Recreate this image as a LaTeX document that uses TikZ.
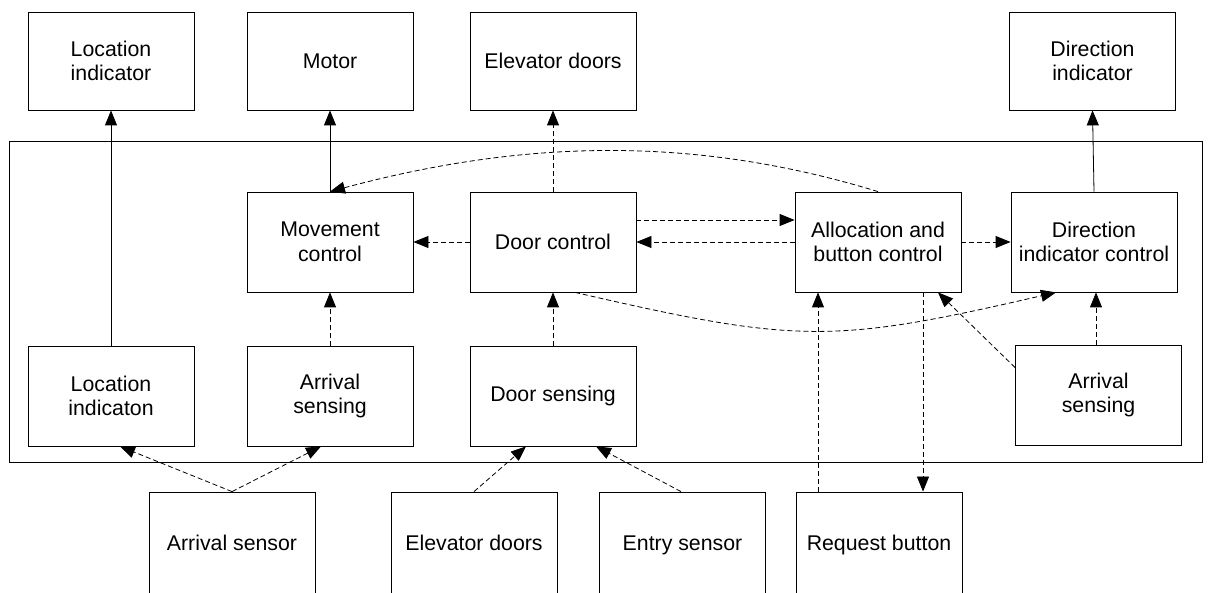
\documentclass[tikz,border=0pt]{standalone}
\usepackage{fontspec}
\setmainfont{Liberation Sans}
\usetikzlibrary{arrows.meta}
\begin{document}
\begin{tikzpicture}[x=1pt,y=1pt,
  box/.style={draw, line width=0.8pt, minimum width=166pt, minimum height=100pt,
    align=center, inner sep=2pt, font=\fontsize{21.3}{24.5}\selectfont},
  tall/.style={minimum height=98pt},
  lowbox/.style={minimum height=102pt, text depth=0pt},
  solidarr/.style={line width=0.8pt, -{Triangle[length=15pt,width=12pt]}},
  dasharr/.style={line width=0.8pt, dash pattern=on 5pt off 3pt, -{Triangle[length=15pt,width=12pt]}}]
\useasboundingbox (0,0) rectangle (1213,592);
\clip (0,0) rectangle (1213,592);
\fill[white] (0,0) rectangle (1213,592);
% container
\draw[line width=0.8pt] (9,130) rectangle (1202,451);
% top row
\node[box,tall] (locTop) at (111,531) {Location\\indicator};
\node[box,tall] (motor) at (330,531) {Motor};
\node[box,tall] (elevTop) at (553,531) {Elevator doors};
\node[box,tall] (dirind) at (1092.5,531) {Direction\\indicator};
% middle row
\node[box] (move) at (330,350) {Movement\\control};
\node[box] (door) at (553,350) {Door control};
\node[box] (alloc) at (878,350) {Allocation and\\button control};
\node[box] (dic) at (1094,350) {Direction\\indicator control};
% lower row
\node[box] (locind) at (111,196) {Location\\indicaton};
\node[box] (arrL) at (330,196) {Arrival\\sensing};
\node[box] (dsens) at (553,196) {Door sensing};
\node[box] (arrR) at (1098.5,197) {Arrival\\sensing};
% bottom row
\node[box,lowbox] (asensor) at (232,49) {Arrival sensor};
\node[box,lowbox] (elevBot) at (474,49) {Elevator doors};
\node[box,lowbox] (entry) at (682.5,49) {Entry sensor};
\node[box,lowbox] (req) at (879,49) {Request button};
% solid arrows
\draw[solidarr] (locind.north) -- (locTop.south);
\draw[solidarr] (move.north) -- (motor.south);
\draw[solidarr] (dic.north) -- (dirind.south);
% dashed arrows
\draw[dasharr] (door.north) -- (elevTop.south);
\draw[dasharr] (door.west) -- (move.east);
\draw[dasharr] ([yshift=22pt]door.east) -- ([yshift=22pt]alloc.west);
\draw[dasharr] (alloc.west) -- (door.east);
\draw[dasharr] (alloc.east) -- (dic.west);
\draw[dasharr] (alloc.north) to[out=163,in=15,looseness=0.92] (move.north);
\draw[dasharr] ([xshift=22pt]door.south) to[out=-13,in=193,looseness=1.22] ([xshift=-38pt]dic.south);
\draw[dasharr] (arrL.north) -- (move.south);
\draw[dasharr] (dsens.north) -- (door.south);
\draw[dasharr] ([xshift=-61pt]req.north) -- ([xshift=-60pt]alloc.south);
\draw[dasharr] ([xshift=45pt]alloc.south) -- ([xshift=44pt]req.north);
\draw[dasharr] ([yshift=-23pt]arrR.north west) -- ([xshift=60pt]alloc.south);
\draw[dasharr] ([xshift=-2.5pt]arrR.north) -- ([xshift=2pt]dic.south);
\draw[dasharr] (asensor.north) -- ([xshift=9pt]locind.south);
\draw[dasharr] (asensor.north) -- ([xshift=-9pt]arrL.south);
\draw[dasharr] (elevBot.north) -- ([xshift=-27pt]dsens.south);
\draw[dasharr] ([xshift=-1.5pt]entry.north) -- ([xshift=43pt]dsens.south);
\end{tikzpicture}
\end{document}
